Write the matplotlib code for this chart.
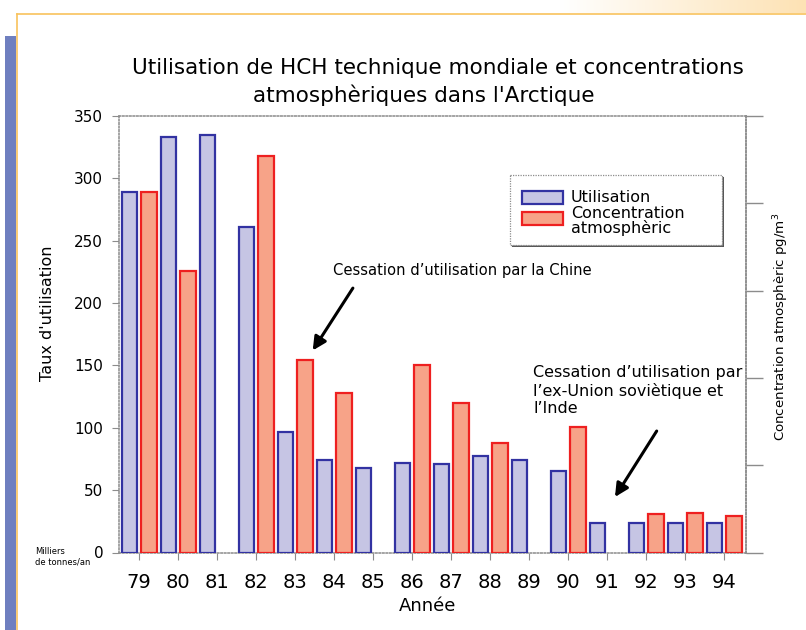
import matplotlib
matplotlib.use("Agg")
import matplotlib.pyplot as plt
import numpy as np
from matplotlib.patches import Rectangle
from matplotlib.colors import LinearSegmentedColormap

# Data (thousands of tonnes / year; concentration drawn on the same visual scale)
years = ["79", "80", "81", "82", "83", "84", "85", "86", "87", "88", "89", "90", "91", "92", "93", "94"]
utilisation = [289, 333, 335, 261, 97, 74, 68, 72, 71, 77, 74, 65, 24, 24, 24, 24]
concentration = [289, 226, None, 318, 154, 128, None, 150, 120, 88, None, 101, None, 31, 32, 29]
y_ticks = [0, 50, 100, 150, 200, 250, 300, 350]

title_lines = ["Utilisation de HCH technique mondiale et concentrations",
               "atmosphèriques dans l'Arctique"]
legend_labels = ["Utilisation", "Concentration\natmosphèric"]
note_china = "Cessation d\u2019utilisation par la Chine"
note_ussr = "Cessation d\u2019utilisation par\nl\u2019ex-Union soviètique et\nl\u2019Inde"

BLUE_FILL, BLUE_EDGE = "#c6c5e4", "#3232a2"
RED_FILL, RED_EDGE = "#f7a388", "#ee2020"
AXIS_GREY = "#8c8c8c"

plt.rcParams["font.family"] = ["DejaVu Sans"]

fig = plt.figure(figsize=(8.06, 6.30), dpi=100)
W, H = 806, 630

# page decoration layer in pixel units (y downwards)
deco = fig.add_axes([0, 0, 1, 1], zorder=-5)
deco.set_xlim(0, W)
deco.set_ylim(H, 0)
deco.axis("off")
deco.add_patch(Rectangle((5, 36), 11, H - 36, color="#6f7fbf", lw=0))
deco.plot([16.5, W], [14, 14], color="#f8c25c", lw=1.2)
deco.plot([16.5, 16.5], [14, H], color="#f8c25c", lw=1.2)
grad = LinearSegmentedColormap.from_list("g", ["#ffffff", "#fde2b4"])
deco.imshow(np.linspace(0, 1, 256)[None, :], cmap=grad, aspect="auto",
            extent=(560, W, 13.4, 0), zorder=-1)

ax = fig.add_axes([118.5 / W, 1 - 552.5 / H, (746 - 118.5) / W, (552.5 - 116) / H])

x = np.arange(len(years))
off, bw = 0.25, 0.40
for i in x:
    ax.bar(i - off, utilisation[i], width=bw, color=BLUE_FILL, edgecolor=BLUE_EDGE, linewidth=1.6, zorder=3)
    if concentration[i] is not None:
        ax.bar(i + off, concentration[i], width=bw, color=RED_FILL, edgecolor=RED_EDGE, linewidth=1.6, zorder=3)

ax.set_xlim(-0.53, 15.56)
ax.set_ylim(0, 350)
ax.set_yticks(y_ticks)
ax.set_yticklabels([str(v) for v in y_ticks], fontsize=11)
ax.set_xticks(x)
ax.set_xticklabels(years, fontsize=14)
ax.tick_params(axis="y", length=5, width=0.8, color=AXIS_GREY, pad=6)
ax.tick_params(axis="x", length=5, width=0.8, color=AXIS_GREY, pad=10)

for s in ax.spines.values():
    s.set_color(AXIS_GREY)
    s.set_linewidth(1.1)
    s.set_linestyle((0, (1, 1.3)))

# right-hand axis: ticks only
ax2 = ax.twinx()
ax2.set_ylim(0, 350)
ax2.set_yticks(np.linspace(0, 350, 6))
ax2.set_yticklabels([])
ax2.tick_params(axis="y", length=12, width=1.0, color=AXIS_GREY)
for s in ax2.spines.values():
    s.set_visible(False)
ax2.spines["right"].set_visible(True)
ax2.spines["right"].set_color(AXIS_GREY)
ax2.spines["right"].set_linewidth(1.1)
ax2.spines["right"].set_linestyle((0, (1, 1.3)))

# titles and labels
fig.text(438 / W, 1 - 68 / H, title_lines[0], ha="center", va="center", fontsize=15.5)
fig.text(424 / W, 1 - 95 / H, title_lines[1], ha="center", va="center", fontsize=15.5)
fig.text(428 / W, 1 - 606 / H, "Année", ha="center", va="center", fontsize=13)
fig.text(48 / W, 1 - 313 / H, "Taux d'utilisation", ha="center", va="center", rotation=90, fontsize=11.5)
fig.text(781 / W, 1 - 327 / H, "Concentration atmosphèric pg/m$^3$", ha="center", va="center",
         rotation=90, fontsize=9.6)
fig.text(35 / W, 1 - 557 / H, "Milliers\nde tonnes/an", ha="left", va="center", fontsize=6,
         linespacing=1.2)

# legend box with drop shadow
deco_top = fig.add_axes([0, 0, 1, 1], zorder=10)
deco_top.set_xlim(0, W)
deco_top.set_ylim(H, 0)
deco_top.axis("off")
deco_top.add_patch(Rectangle((512, 177), 212, 70, facecolor="#555555", lw=0))
deco_top.add_patch(Rectangle((510, 175), 212, 70, facecolor="white", edgecolor=AXIS_GREY,
                             lw=0.9, linestyle=(0, (1, 1))))
deco_top.add_patch(Rectangle((522, 191), 41, 13, facecolor=BLUE_FILL, edgecolor=BLUE_EDGE, lw=1.6))
deco_top.add_patch(Rectangle((522, 212), 41, 13, facecolor=RED_FILL, edgecolor=RED_EDGE, lw=1.6))
deco_top.text(571, 197.5, legend_labels[0], ha="left", va="center", fontsize=11.5)
deco_top.text(571, 221, legend_labels[1], ha="left", va="center", fontsize=11.5, linespacing=0.95)

# annotations
arrow = dict(arrowstyle="-|>", lw=2.2, color="black", mutation_scale=20, shrinkA=0, shrinkB=0)
ax.annotate("", xy=(4 + off + 0.2, concentration[4] + 8), xytext=(5.48, 212), arrowprops=arrow, zorder=5)
ax.text(4.97, 226, note_china, ha="left", va="center", fontsize=10.6)
ax.annotate("", xy=(12.2, 44.5), xytext=(13.27, 97.4), arrowprops=arrow, zorder=5)
ax.text(10.1, 150.5, note_ussr, ha="left", va="top", fontsize=11.5, linespacing=1.22)

fig.savefig("out.png", dpi=100)
